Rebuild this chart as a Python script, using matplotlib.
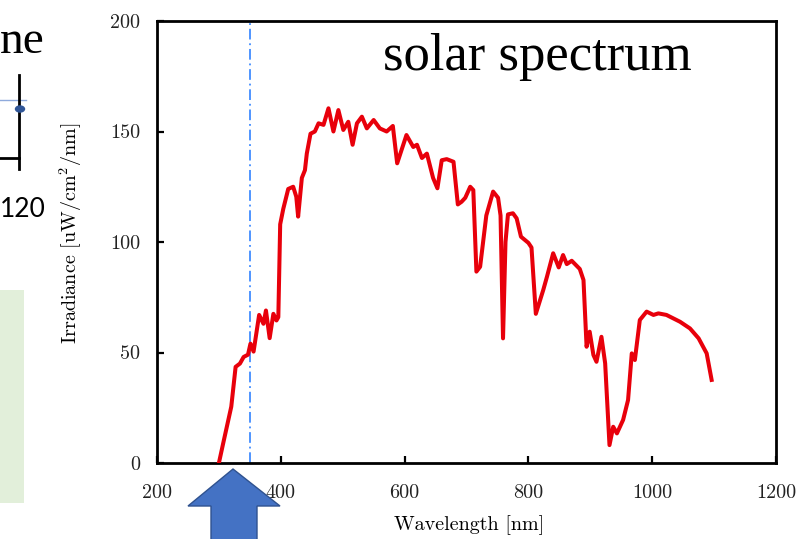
import matplotlib
matplotlib.use("Agg")
import matplotlib.pyplot as plt
from matplotlib.patches import Rectangle, Polygon, Circle
from matplotlib.lines import Line2D

plt.rcParams['mathtext.fontset'] = 'cm'

wavelength = [300, 307, 320, 327, 334, 340, 347, 351, 356, 365, 372, 376, 382, 388, 393,
              396, 399, 404, 412, 420, 425, 428, 434, 439, 442, 448, 455, 461, 469, 477,
              485, 493, 501, 509, 516, 523, 531, 539, 550, 560, 571, 581, 588, 603, 614,
              620, 628, 636, 646, 653, 660, 668, 679, 686, 692, 698, 706, 711, 716, 722,
              732, 743, 751, 755, 759, 763, 767, 775, 781, 788, 800, 805, 812, 824, 830,
              840, 849, 856, 862, 870, 883, 889, 894, 899, 905, 910, 918, 924, 931, 937,
              943, 953, 961, 967, 972, 980, 991, 1002, 1010, 1023, 1045, 1061, 1075, 1088, 1096]
irradiance = [0, 9, 25.5, 43.5, 45, 48, 49, 54, 50.4, 67, 63, 69, 56.5, 67.5, 64.5,
              66, 108, 115, 124, 125, 120.5, 111.5, 129, 132.5, 140, 149, 150, 153.7, 153, 160.5,
              150, 159.7, 150.7, 154.4, 144, 153.7, 156.7, 151.4, 155.2, 151.4, 150, 152.5, 135.6, 148.4, 143,
              144, 138, 140, 129, 124.3, 137, 137.5, 136.3, 117, 118.2, 120, 125, 123.5, 86.6, 88.8,
              112, 122.8, 120, 112, 56.4, 100, 112.5, 113, 110.7, 102.4, 99.6, 97.5, 67.5, 78.3, 84.3,
              94.9, 88.5, 94.1, 90, 91.5, 87.8, 82.8, 52.6, 59.4, 48.9, 45.8, 57.1, 45.1, 8.1, 16.4,
              13.4, 19.5, 28.5, 49.6, 46.6, 64.7, 68.5, 67, 67.7, 67, 63.9, 60.9, 56.4, 49.6, 37.6]
marker_wavelength = 350
x_ticks = [200, 400, 600, 800, 1000, 1200]
x_ticklabels = ["200", "400", "600", "800", "1000", "1200"]
y_ticks = [0, 50, 100, 150, 200]
y_ticklabels = ["0", "50", "100", "150", "200"]

W, H = 802, 539
fig = plt.figure(figsize=(W / 100, H / 100), dpi=100)
fig.patch.set_facecolor('white')

def fx(px):
    return px / W

def fy(py):
    return 1 - py / H

ax = fig.add_axes([fx(157), fy(463), fx(776) - fx(157), fy(21) - fy(463)])
ax.plot(wavelength, irradiance, color='#e8000b', lw=2.9, solid_joinstyle='round', zorder=3)
ax.axvline(marker_wavelength, color='#1f78ff', lw=1.1, linestyle=(0, (7, 2.5, 1.2, 2.5)), zorder=2)

ax.set_xlim(200, 1200)
ax.set_ylim(0, 200)
ax.set_xticks(x_ticks)
ax.set_xticklabels(x_ticklabels, fontfamily='cmr10', fontsize=14.5, color='#222222')
ax.set_yticks(y_ticks)
ax.set_yticklabels(y_ticklabels, fontfamily='cmr10', fontsize=14.5, color='#222222')
ax.tick_params(direction='in', length=5, width=1.6, pad=12)
ax.tick_params(axis='x', pad=15)
for s in ax.spines.values():
    s.set_linewidth(2.0)
ax.set_xlabel('Wavelength [nm]', fontfamily='cmr10', fontsize=14.5)
ax.set_ylabel(r'Irradiance [uW/cm$^2$/nm]', fontfamily='cmr10', fontsize=14.5)
ax.xaxis.set_label_coords(0.505, -0.118)
ax.yaxis.set_label_coords(-0.118, 0.52)

fig.text(fx(383), fy(70), 'solar spectrum', fontfamily='Liberation Serif', fontsize=38,
         ha='left', va='baseline')

# fragments of neighbouring slide content on the left
fig.text(fx(0), fy(53), 'ne', fontfamily='Liberation Serif', fontsize=34, ha='left', va='baseline')
fig.text(fx(0), fy(217), '120', fontfamily='Lato', fontsize=19, ha='left', va='baseline')
fig.add_artist(Line2D([fx(0), fx(26)], [fy(100), fy(100)], color='#8faadc', lw=1.0))
fig.add_artist(Line2D([fx(19), fx(19)], [fy(75), fy(169)], color='black', lw=2.0))
fig.add_artist(Line2D([fx(0), fx(19)], [fy(158), fy(158)], color='black', lw=2.0))
fig.add_artist(Circle((fx(20), fy(109)), 4.5 / W, transform=fig.transFigure,
                      color='#2f5597', zorder=5))
fig.add_artist(Rectangle((fx(0), fy(503)), fx(24), fy(290) - fy(503), transform=fig.transFigure,
                         facecolor='#e2efda', edgecolor='none'))

# blue block arrow
arrow_px = [(233, 469), (280, 506), (257, 506), (257, 545), (211, 545), (211, 506), (188, 506)]
fig.add_artist(Polygon([(fx(a), fy(b)) for a, b in arrow_px], closed=True,
                       transform=fig.transFigure, facecolor='#4472c4', edgecolor='#2f528f',
                       lw=1.0, zorder=10))

fig.savefig('out.png', dpi=100)
